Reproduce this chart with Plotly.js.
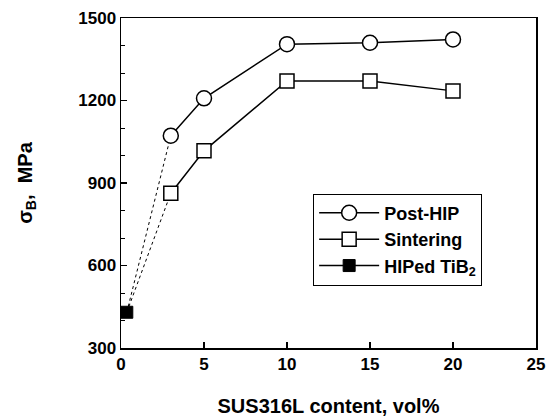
<!DOCTYPE html>
<html>
<head>
<meta charset="utf-8">
<script src="https://cdn.plot.ly/plotly-3.0.1.min.js"></script>
<style>html,body{margin:0;padding:0;background:#fff;}#chart{width:553px;height:419px;}</style>
</head>
<body>
<div id="chart"></div>
<script>
// Data
const contentVol = [3, 5, 10, 15, 20];
const postHIP = [1072, 1208, 1405, 1410, 1422];
const sintering = [863, 1017, 1271, 1271, 1235];
const hipedX = [0.35];
const hipedY = [430];
const xTicks = [0, 5, 10, 15, 20, 25];
const yTicks = [300, 600, 900, 1200, 1500];

const font = 'Liberation Sans, Arial, sans-serif';

const traces = [
  {x: [hipedX[0], contentVol[0]], y: [hipedY[0], postHIP[0]], mode: 'lines',
   line: {color: '#000', width: 1, dash: 'dot'}, showlegend: false, hoverinfo: 'skip'},
  {x: [hipedX[0], contentVol[0]], y: [hipedY[0], sintering[0]], mode: 'lines',
   line: {color: '#000', width: 1, dash: 'dot'}, showlegend: false, hoverinfo: 'skip'},
  {x: contentVol, y: postHIP, mode: 'lines+markers', name: 'Post-HIP',
   line: {color: '#000', width: 1.5},
   marker: {symbol: 'circle', size: 15, color: '#fff', line: {color: '#000', width: 1.5}}},
  {x: contentVol, y: sintering, mode: 'lines+markers', name: 'Sintering',
   line: {color: '#000', width: 1.5},
   marker: {symbol: 'square', size: 14, color: '#fff', line: {color: '#000', width: 1.5}}},
  {x: hipedX, y: hipedY, mode: 'lines+markers', name: 'HIPed TiB<sub>2</sub>',
   line: {color: '#000', width: 1.5},
   marker: {symbol: 'square', size: 12, color: '#000', line: {color: '#000', width: 1}},
   cliponaxis: false}
];

const layout = {
  width: 553, height: 419,
  margin: {l: 121, r: 17, t: 18, b: 71},
  paper_bgcolor: '#fff', plot_bgcolor: '#fff',
  font: {family: font, color: '#000'},
  showlegend: true,
  legend: {
    x: 0.463, y: 0.468, xanchor: 'left', yanchor: 'top',
    bordercolor: '#000', borderwidth: 1, bgcolor: '#fff',
    font: {family: font, size: 18, weight: 'bold', color: '#000'},
    tracegroupgap: 0, itemwidth: 60
  },
  xaxis: {
    range: [0, 25], tickvals: xTicks, ticktext: xTicks.map(String),
    ticks: 'inside', ticklen: 6, tickwidth: 1.5, tickcolor: '#000',
    showline: true, linecolor: '#000', linewidth: 1.5, mirror: true,
    showgrid: false, zeroline: false,
    tickfont: {family: font, size: 17, weight: 'bold'},
    title: {text: 'SUS316L content, vol%', font: {family: font, size: 20, weight: 'bold'}, standoff: 26}
  },
  yaxis: {
    range: [300, 1500], tickvals: yTicks, ticktext: yTicks.map(String),
    ticks: 'inside', ticklen: 6, tickwidth: 1.5, tickcolor: '#000',
    minor: {dtick: 100, ticks: 'inside', ticklen: 4, tickwidth: 1, tickcolor: '#000'},
    showline: true, linecolor: '#000', linewidth: 1.5, mirror: true,
    showgrid: false, zeroline: false,
    tickfont: {family: font, size: 17, weight: 'bold'},
    title: {text: 'σ<sub>B</sub>,  MPa', font: {family: font, size: 20, weight: 'bold'}, standoff: 40}
  }
};

Plotly.newPlot('chart', traces, layout, {displayModeBar: false, staticPlot: true});
</script>
</body>
</html>
